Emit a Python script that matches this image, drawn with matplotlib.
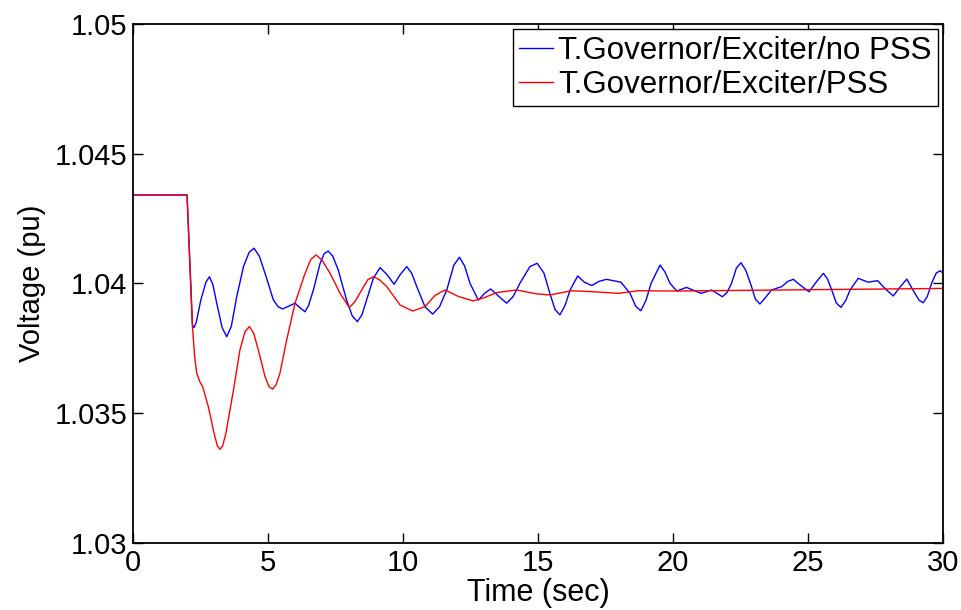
import matplotlib
matplotlib.use("Agg")
import matplotlib.pyplot as plt

plt.rcParams['font.family'] = ['Liberation Sans', 'DejaVu Sans']

# Terminal voltage after the disturbance at t = 2 s
t_nopss = [0.0, 2.0, 2.1, 2.2, 2.26, 2.34, 2.51, 2.70, 2.83, 2.96, 3.10, 3.30, 3.47,
           3.64, 3.84, 4.09, 4.30, 4.48, 4.68, 4.89, 5.20, 5.38, 5.54, 5.75, 6.0,
           6.2, 6.37, 6.50, 6.68, 6.93, 7.08, 7.23, 7.40, 7.60, 7.91, 8.12, 8.31,
           8.48, 8.65, 8.90, 9.15, 9.40, 9.67, 9.90, 10.14, 10.32, 10.51, 10.81,
           11.10, 11.35, 11.62, 11.88, 12.09, 12.28, 12.48, 12.79, 13.02, 13.25,
           13.55, 13.84, 14.08, 14.33, 14.70, 14.97, 15.22, 15.44, 15.63, 15.81,
           16.00, 16.19, 16.47, 16.72, 16.99, 17.25, 17.54, 18.07, 18.41, 18.62,
           18.81, 19.00, 19.19, 19.52, 19.70, 19.89, 20.14, 20.50, 21.04, 21.43,
           21.83, 22.00, 22.17, 22.35, 22.52, 22.70, 22.91, 23.05, 23.22, 23.42,
           23.65, 24.03, 24.25, 24.46, 24.70, 25.04, 25.30, 25.57, 25.72, 25.88,
           26.05, 26.22, 26.40, 26.56, 26.86, 27.23, 27.58, 27.85, 28.16, 28.40,
           28.66, 28.96, 29.12, 29.27, 29.42, 29.58, 29.75, 29.89, 30.0]
v_nopss = [1.04341, 1.04341, 1.04090, 1.03840, 1.03830, 1.03850, 1.03936, 1.04005,
           1.04026, 1.03995, 1.03924, 1.03830, 1.03795, 1.03835, 1.03949, 1.04065,
           1.04120, 1.04136, 1.04105, 1.04039, 1.03936, 1.03910, 1.03902, 1.03912,
           1.03924, 1.03905, 1.03891, 1.03915, 1.03975, 1.04078, 1.04115, 1.04125,
           1.04105, 1.04052, 1.03936, 1.03875, 1.03853, 1.03880, 1.03936, 1.04020,
           1.04061, 1.04035, 1.03997, 1.04035, 1.04065, 1.04040, 1.03988, 1.03911,
           1.03882, 1.03910, 1.03975, 1.04070, 1.04101, 1.04068, 1.04001, 1.03936,
           1.03962, 1.03979, 1.03950, 1.03924, 1.03950, 1.04001, 1.04065, 1.04078,
           1.04040, 1.03962, 1.03900, 1.03879, 1.03915, 1.03975, 1.04029, 1.04005,
           1.03992, 1.04008, 1.04016, 1.04005, 1.03962, 1.03912, 1.03895, 1.03935,
           1.04001, 1.04071, 1.04045, 1.04001, 1.03971, 1.03985, 1.03962, 1.03975,
           1.03949, 1.03965, 1.04001, 1.04060, 1.04080, 1.04050, 1.03988, 1.03940,
           1.03921, 1.03945, 1.03975, 1.03988, 1.04008, 1.04016, 1.03995, 1.03968,
           1.04005, 1.04039, 1.04018, 1.03975, 1.03925, 1.03908, 1.03935, 1.03975,
           1.04020, 1.04005, 1.04011, 1.03981, 1.03952, 1.03985, 1.04017, 1.03962,
           1.03935, 1.03926, 1.03950, 1.04001, 1.04040, 1.04049, 1.04040]

t_pss = [0.0, 2.0, 2.1, 2.2, 2.28, 2.36, 2.48, 2.58, 2.79, 3.0, 3.12, 3.22, 3.32,
         3.44, 3.72, 3.96, 4.15, 4.31, 4.47, 4.64, 4.89, 5.04, 5.17, 5.30, 5.44,
         5.69, 6.0, 6.35, 6.58, 6.78, 7.00, 7.30, 7.67, 8.01, 8.22, 8.47, 8.70,
         8.90, 9.12, 9.40, 9.89, 10.36, 10.81, 11.20, 11.56, 12.05, 12.6, 13.0,
         13.47, 14.21, 14.95, 15.44, 16.25, 17.1, 17.97, 18.72, 20.14, 25.0, 30.0]
v_pss = [1.04341, 1.04341, 1.04090, 1.03834, 1.03720, 1.03654, 1.03620, 1.03602,
         1.03525, 1.03423, 1.03375, 1.03361, 1.03375, 1.03423, 1.03590, 1.03744,
         1.03815, 1.03834, 1.03808, 1.03744, 1.03641, 1.03602, 1.03593, 1.03610,
         1.03654, 1.03782, 1.03924, 1.04033, 1.04092, 1.04110, 1.04090, 1.04039,
         1.03962, 1.03907, 1.03930, 1.03975, 1.04015, 1.04026, 1.04015, 1.03988,
         1.03917, 1.03894, 1.03911, 1.03955, 1.03975, 1.03950, 1.03933, 1.03945,
         1.03965, 1.03975, 1.03960, 1.03956, 1.03972, 1.03968, 1.03962, 1.03972,
         1.03971, 1.03976, 1.03981]

x_ticks = [0, 5, 10, 15, 20, 25, 30]
y_ticks = [1.03, 1.035, 1.04, 1.045, 1.05]
y_tick_labels = ['1.03', '1.035', '1.04', '1.045', '1.05']

fig = plt.figure(figsize=(9.62, 6.10), dpi=100)
ax = fig.add_axes([0.1383, 0.1098, 0.8419, 0.8509])

ax.plot(t_nopss, v_nopss, color='#0000ff', lw=1.0, label='T.Governor/Exciter/no PSS')
ax.plot(t_pss, v_pss, color='#ff0000', lw=1.0, label='T.Governor/Exciter/PSS')

ax.set_xlim(0, 30)
ax.set_ylim(1.03, 1.05)
ax.set_xticks(x_ticks)
ax.set_xticklabels([str(x) for x in x_ticks])
ax.set_yticks(y_ticks)
ax.set_yticklabels(y_tick_labels)

ax.tick_params(direction='in', length=7, width=1.0, top=True, right=True,
               labelsize=21, pad=4)
for s in ax.spines.values():
    s.set_linewidth(1.3)

ax.set_xlabel('Time (sec)', fontsize=22, labelpad=1)
ax.set_ylabel('Voltage (pu)', fontsize=21, labelpad=6)

leg = ax.legend(loc='upper right', fontsize=22.5, handlelength=1.1, handletextpad=0.15,
                borderpad=0.2, labelspacing=0.15, borderaxespad=0.17,
                fancybox=False, framealpha=1.0, edgecolor='black')
leg.get_frame().set_linewidth(1.0)

fig.savefig('out.png', dpi=100)
